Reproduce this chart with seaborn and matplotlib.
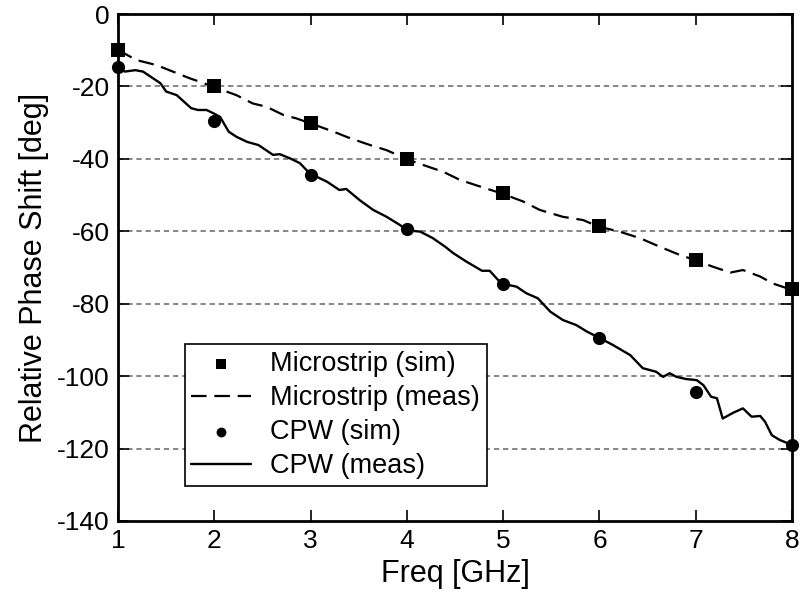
import numpy as np
import pandas as pd
import matplotlib
matplotlib.use("Agg")
import matplotlib.pyplot as plt
import seaborn as sns

# Simulated points
sim_freq = [1, 2, 3, 4, 5, 6, 7, 8]
ms_sim = [-10, -20, -30, -40, -49.5, -58.5, -68, -76]
cpw_sim = [-14.5, -29.5, -44.5, -59.5, -74.5, -89.5, -104.5, -119]

# Measured curves
ms_meas_freq = [1.0, 1.19, 1.40, 1.57, 1.75, 1.85, 2.0, 2.23, 2.40, 2.54, 2.72, 2.85, 3.0,
                3.24, 3.41, 3.62, 3.79, 4.0, 4.17, 4.38, 4.55, 4.79, 4.98, 5.21, 5.38,
                5.62, 5.83, 5.99, 6.21, 6.42, 6.63, 6.84, 6.99, 7.18, 7.36, 7.49, 7.67,
                7.80, 8.0]
ms_meas = [-9.9, -12.7, -14.1, -15.9, -17.8, -18.7, -20.2, -22.4, -24.7, -25.6, -27.9,
           -28.8, -30.2, -32.5, -34.3, -36.2, -37.6, -40.1, -41.7, -43.6, -45.8, -47.9,
           -49.5, -51.8, -54.1, -56.0, -56.9, -58.7, -60.1, -61.9, -64.3, -66.6, -67.9,
           -69.8, -71.4, -70.7, -72.5, -74.4, -76.2]

cpw_meas_freq = [1.0, 1.07, 1.18, 1.26, 1.44, 1.50, 1.61, 1.76, 1.83, 1.92, 1.99, 2.06,
                 2.15, 2.23, 2.34, 2.46, 2.61, 2.68, 2.79, 2.89, 2.99, 3.17, 3.30, 3.37,
                 3.51, 3.65, 3.79, 3.93, 4.0, 4.14, 4.27, 4.40, 4.48, 4.62, 4.78, 4.86,
                 4.98, 5.14, 5.24, 5.36, 5.49, 5.62, 5.76, 5.87, 5.99, 6.14, 6.32, 6.45,
                 6.59, 6.66, 6.73, 6.80, 6.90, 7.01, 7.08, 7.16, 7.22, 7.28, 7.39, 7.49,
                 7.58, 7.67, 7.72, 7.79, 7.87, 8.0]
cpw_meas = [-14.5, -15.9, -15.5, -15.9, -19.1, -21.4, -22.4, -26.0, -26.5, -26.5, -27.4,
            -28.4, -32.5, -33.9, -35.3, -36.2, -38.9, -38.7, -39.9, -41.2, -44.0, -46.3,
            -48.6, -48.3, -51.4, -54.1, -56.0, -58.3, -59.7, -60.1, -61.9, -64.3, -66.0,
            -68.4, -70.9, -70.9, -74.4, -75.3, -77.1, -78.5, -82.2, -84.5, -85.9, -87.7,
            -89.3, -91.4, -94.2, -97.8, -98.8, -100.2, -99.2, -100.2, -100.8, -101.1,
            -102.5, -105.7, -106.1, -111.7, -110.1, -108.9, -111.2, -111.0, -112.6,
            -116.3, -117.6, -119.0]

x_ticks = [1, 2, 3, 4, 5, 6, 7, 8]
y_ticks = [0, -20, -40, -60, -80, -100, -120, -140]

sns.set_theme(style="white")
plt.rcParams['font.family'] = ['Liberation Sans', 'DejaVu Sans']
plt.rcParams['text.color'] = 'black'
plt.rcParams['axes.labelcolor'] = 'black'
plt.rcParams['xtick.color'] = 'black'
plt.rcParams['ytick.color'] = 'black'

fig = plt.figure(figsize=(8.01, 6.07), dpi=100)
ax = fig.add_axes([0.1473, 0.1417, 0.8415, 0.8352])

df_ms_sim = pd.DataFrame({"f": sim_freq, "p": ms_sim})
df_cpw_sim = pd.DataFrame({"f": sim_freq, "p": cpw_sim})
df_ms_meas = pd.DataFrame({"f": ms_meas_freq, "p": ms_meas})
df_cpw_meas = pd.DataFrame({"f": cpw_meas_freq, "p": cpw_meas})

for yv in y_ticks[1:-1]:
    ax.axhline(yv, color="#666666", linestyle=(0, (3.5, 2.5)), linewidth=1.1, zorder=0)

sns.scatterplot(data=df_ms_sim, x="f", y="p", ax=ax, marker="s", s=90, color="black",
                edgecolor="black", linewidth=0, label="Microstrip (sim)", zorder=5, clip_on=False)
sns.lineplot(data=df_ms_meas, x="f", y="p", ax=ax, color="black", linewidth=1.6,
             label="Microstrip (meas)", zorder=4)
ax.lines[-1].set_dashes((7, 3.5))
sns.scatterplot(data=df_cpw_sim, x="f", y="p", ax=ax, marker="o", s=90, color="black",
                edgecolor="black", linewidth=0, label="CPW (sim)", zorder=5, clip_on=False)
sns.lineplot(data=df_cpw_meas, x="f", y="p", ax=ax, color="black", linewidth=1.7,
             label="CPW (meas)", zorder=4)

ax.set_xlim(1, 8)
ax.set_ylim(-140, 0)
ax.set_xticks(x_ticks)
ax.set_yticks(y_ticks)
ax.set_xticklabels([str(v) for v in x_ticks])
ax.set_yticklabels([str(v) for v in y_ticks])
ax.tick_params(axis="both", direction="in", length=8, width=1.2, labelsize=19,
               top=True, right=True, bottom=True, left=True, pad=6, colors="black")
for sp in ax.spines.values():
    sp.set_linewidth(2)
    sp.set_color("black")

ax.set_xlabel("Freq [GHz]", fontsize=22, labelpad=4, color="black")
ax.set_ylabel("Relative Phase Shift [deg]", fontsize=22, labelpad=6, color="black")

leg = ax.legend(loc="lower left", bbox_to_anchor=(0.099, 0.069), fontsize=19.5,
                frameon=True, fancybox=False, edgecolor="black", framealpha=1,
                borderpad=0.25, labelspacing=0.3, handlelength=2.2, handletextpad=0.7,
                borderaxespad=0)
leg.get_frame().set_linewidth(1.2)
for t in leg.get_texts():
    t.set_color("black")
for h in leg.legend_handles:
    try:
        h.set_sizes([50])
    except Exception:
        pass

fig.savefig("out.png", dpi=100)
